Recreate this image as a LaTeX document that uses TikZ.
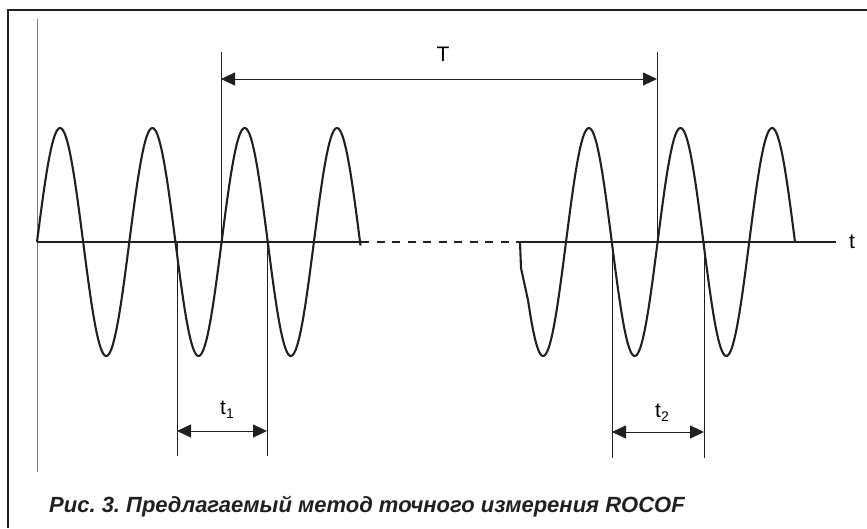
\documentclass[tikz,border=0pt]{standalone}
\usepackage{fontspec}
\setmainfont{Liberation Sans}
\usetikzlibrary{arrows.meta}
\definecolor{ink}{HTML}{231F20}
\definecolor{axisgrey}{HTML}{7A7A7A}
\tikzset{
  wave/.style={draw=ink, line width=2.1pt, line join=round},
  baseln/.style={draw=ink, line width=2pt},
  guide/.style={draw=ink, line width=0.9pt},
  dimarrow/.style={draw=ink, line width=0.9pt, {Triangle[length=14pt,width=13pt]}-{Triangle[length=14pt,width=13pt]}},
  lbl/.style={inner sep=0pt, font=\fontsize{21}{21}\selectfont},
  frameln/.style={draw=ink, line width=1.4pt},
}
\newcommand{\subtxt}[1]{\raisebox{-0.35ex}{\fontsize{14}{14}\selectfont #1}}
\begin{document}
\begin{tikzpicture}[x=1pt,y=-1pt]
\useasboundingbox (0,0) rectangle (867,528);
% frame (top and left)
\coordinate (fTL) at (8,10);
\coordinate (fTR) at (867,10);
\coordinate (fBL) at (8,528);
\draw[frameln] (fTR) -- (fTL) -- (fBL);
% vertical axis
\coordinate (axT) at (37,19);
\coordinate (axB) at (37,472);
\draw[draw=axisgrey, line width=1pt] (axT) -- (axB);
% baseline
\coordinate (b0) at (37,242);
\coordinate (b1) at (361,242);
\coordinate (b2) at (520,242);
\coordinate (b3) at (836,242);
\draw[baseln] (b0) -- (b1);
\draw[baseln, dash pattern=on 8pt off 7.5pt] (b1) -- (b2);
\draw[baseln] (b2) -- (b3);
\node[lbl, anchor=center] (tlab) at (852,242) {t};
% waves
\draw[wave] plot[domain=37:360.5, samples=240] (\x, {242-114*sin(((\x-37)/92.3)*360)});
\draw[wave] (520,242) -- (521,268) -- plot[domain=528:795, samples=220] (\x, {242-114*sin(((\x-566)/91.6)*360)});
% T guides
\coordinate (TgA) at (221,52);
\coordinate (TgAb) at (221,242);
\coordinate (TgB) at (657,52);
\coordinate (TgBb) at (657,242);
\draw[guide] (TgA) -- (TgAb);
\draw[guide] (TgB) -- (TgBb);
\coordinate (TaA) at (221,79);
\coordinate (TaB) at (657,79);
\draw[dimarrow] (TaA) -- (TaB);
\node[lbl] (Tlab) at (443,54) {T};
% t1 guides
\coordinate (p1a) at (177,242);
\coordinate (p1ab) at (177,456);
\coordinate (p1b) at (267,242);
\coordinate (p1bb) at (267,456);
\draw[guide] (p1a) -- (p1ab);
\draw[guide] (p1b) -- (p1bb);
\coordinate (a1a) at (177,431);
\coordinate (a1b) at (267,431);
\draw[dimarrow] (a1a) -- (a1b);
\node[lbl] (t1lab) at (227,410) {t\subtxt{1}};
% t2 guides
\coordinate (p2a) at (612,242);
\coordinate (p2ab) at (612,458);
\coordinate (p2b) at (704,242);
\coordinate (p2bb) at (704,458);
\draw[guide] (p2a) -- (p2ab);
\draw[guide] (p2b) -- (p2bb);
\coordinate (a2a) at (612,432);
\coordinate (a2b) at (704,432);
\draw[dimarrow] (a2a) -- (a2b);
\node[lbl] (t2lab) at (662,413) {t\subtxt{2}};
% caption
\node[inner sep=0pt, anchor=base west, text=ink] (cap) at (49,512)
  {\frenchspacing\fontsize{22}{22}\selectfont\bfseries\itshape Рис. 3. Предлагаемый метод точного измерения ROCOF};
\end{tikzpicture}
\end{document}
